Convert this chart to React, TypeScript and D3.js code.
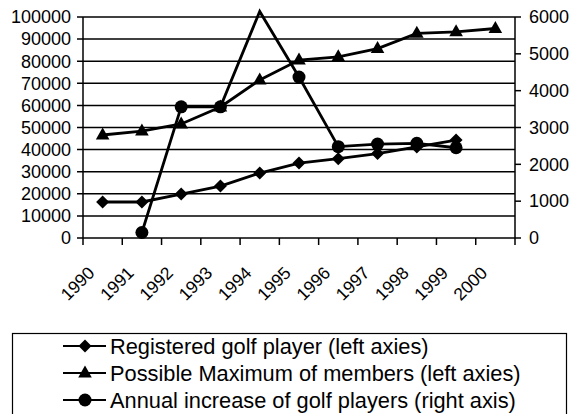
import * as d3 from "d3";
import React from "react";

const years = ["1990", "1991", "1992", "1993", "1994", "1995", "1996", "1997", "1998", "1999", "2000"];
const registered: (number | null)[] = [16300, 16300, 19900, 23500, 29400, 33900, 35900, 38200, 41200, 44300, null];
const possibleMax: (number | null)[] = [46600, 48400, 51600, 59300, 71500, 80500, 82000, 85700, 92600, 93300, 94800];
const annualIncrease: (number | null)[] = [null, 150, 3560, 3560, 6150, 4370, 2480, 2550, 2570, 2450, null];
const leftTicks = [0, 10000, 20000, 30000, 40000, 50000, 60000, 70000, 80000, 90000, 100000];
const rightTicks = [0, 1000, 2000, 3000, 4000, 5000, 6000];
const legendLabels = [
  "Registered golf player (left axies)",
  "Possible Maximum of members (left axies)",
  "Annual increase of golf players (right axis)",
];

const W = 572;
const H = 414;
const plot = { left: 83, right: 515, top: 17, bottom: 238 };
const font = "'Liberation Sans', Arial, sans-serif";

type Shape = "diamond" | "triangle" | "circle";

const Marker = ({ shape, x, y }: { shape: Shape; x: number; y: number }) => {
  if (shape === "diamond")
    return <path d={`M${x},${y - 6.5}L${x + 6.5},${y}L${x},${y + 6.5}L${x - 6.5},${y}Z`} fill="#000" />;
  if (shape === "triangle")
    return <path d={`M${x},${y - 7.5}L${x + 6.8},${y + 4.5}L${x - 6.8},${y + 4.5}Z`} fill="#000" />;
  return <circle cx={x} cy={y} r={6.5} fill="#000" />;
};

export default function App() {
  const x = d3.scaleBand<string>().domain(years).range([plot.left, plot.right]).padding(0);
  const yL = d3.scaleLinear().domain([0, 100000]).range([plot.bottom, plot.top]);
  const yR = d3.scaleLinear().domain([0, 6000]).range([plot.bottom, plot.top]);
  const cx = (yr: string) => x(yr)! + x.bandwidth() / 2;

  const series: { values: (number | null)[]; y: d3.ScaleLinear<number, number>; shape: Shape }[] = [
    { values: registered, y: yL, shape: "diamond" },
    { values: possibleMax, y: yL, shape: "triangle" },
    { values: annualIncrease, y: yR, shape: "circle" },
  ];

  const boundaries = [...years.map((yr) => x(yr)!), plot.right];

  return (
    <svg width={W} height={H} style={{ position: "absolute", left: 0, top: 0 }} fontFamily={font}>
      <rect width={W} height={H} fill="#fff" />
      {/* gridlines */}
      {leftTicks.map((t) => (
        <line key={t} x1={plot.left - 6} x2={plot.right} y1={yL(t)} y2={yL(t)} stroke="#000" strokeWidth={1.5} />
      ))}
      {leftTicks.map((t) => (
        <text key={t} x={71} y={yL(t)} dy="0.35em" textAnchor="end" fontSize={18}>
          {t}
        </text>
      ))}
      {/* axes */}
      <line x1={plot.left} x2={plot.left} y1={plot.top} y2={plot.bottom} stroke="#000" strokeWidth={1.5} />
      <line x1={plot.right} x2={plot.right} y1={plot.top} y2={plot.bottom} stroke="#000" strokeWidth={1.5} />
      {rightTicks.map((t) => (
        <g key={t}>
          <line x1={plot.right} x2={plot.right + 6} y1={yR(t)} y2={yR(t)} stroke="#000" strokeWidth={1.5} />
          <text x={529} y={yR(t)} dy="0.35em" fontSize={18}>
            {t}
          </text>
        </g>
      ))}
      {boundaries.map((b, i) => (
        <line key={i} x1={b} x2={b} y1={plot.bottom} y2={plot.bottom + 7} stroke="#000" strokeWidth={1.5} />
      ))}
      {years.map((yr) => (
        <text
          key={yr}
          transform={`translate(${cx(yr) - 7},${plot.bottom + 36}) rotate(-45)`}
          textAnchor="end"
          fontSize={17.5}
        >
          {yr}
        </text>
      ))}
      {/* series */}
      {series.map((s, i) => {
        const line = d3
          .line<number | null>()
          .defined((d) => d != null)
          .x((_, j) => cx(years[j]))
          .y((d) => s.y(d as number));
        return (
          <g key={i}>
            <path d={line(s.values) ?? ""} fill="none" stroke="#000" strokeWidth={2.8} strokeLinejoin="miter" />
            {s.values.map((v, j) =>
              v == null || v > s.y.domain()[1] ? null : (
                <Marker key={j} shape={s.shape} x={cx(years[j])} y={s.y(v)} />
              )
            )}
          </g>
        );
      })}
      {/* legend */}
      <rect x={12.5} y={333.5} width={554} height={100} fill="#fff" stroke="#000" strokeWidth={1.2} />
      {legendLabels.map((label, i) => {
        const ly = 346 + i * 27;
        const shape = series[i].shape;
        return (
          <g key={label}>
            <line x1={63} x2={106} y1={ly} y2={ly} stroke="#000" strokeWidth={2} />
            <Marker shape={shape} x={85} y={ly} />
            <text x={110} y={ly} dy="0.35em" fontSize={21.8}>
              {label}
            </text>
          </g>
        );
      })}
    </svg>
  );
}
